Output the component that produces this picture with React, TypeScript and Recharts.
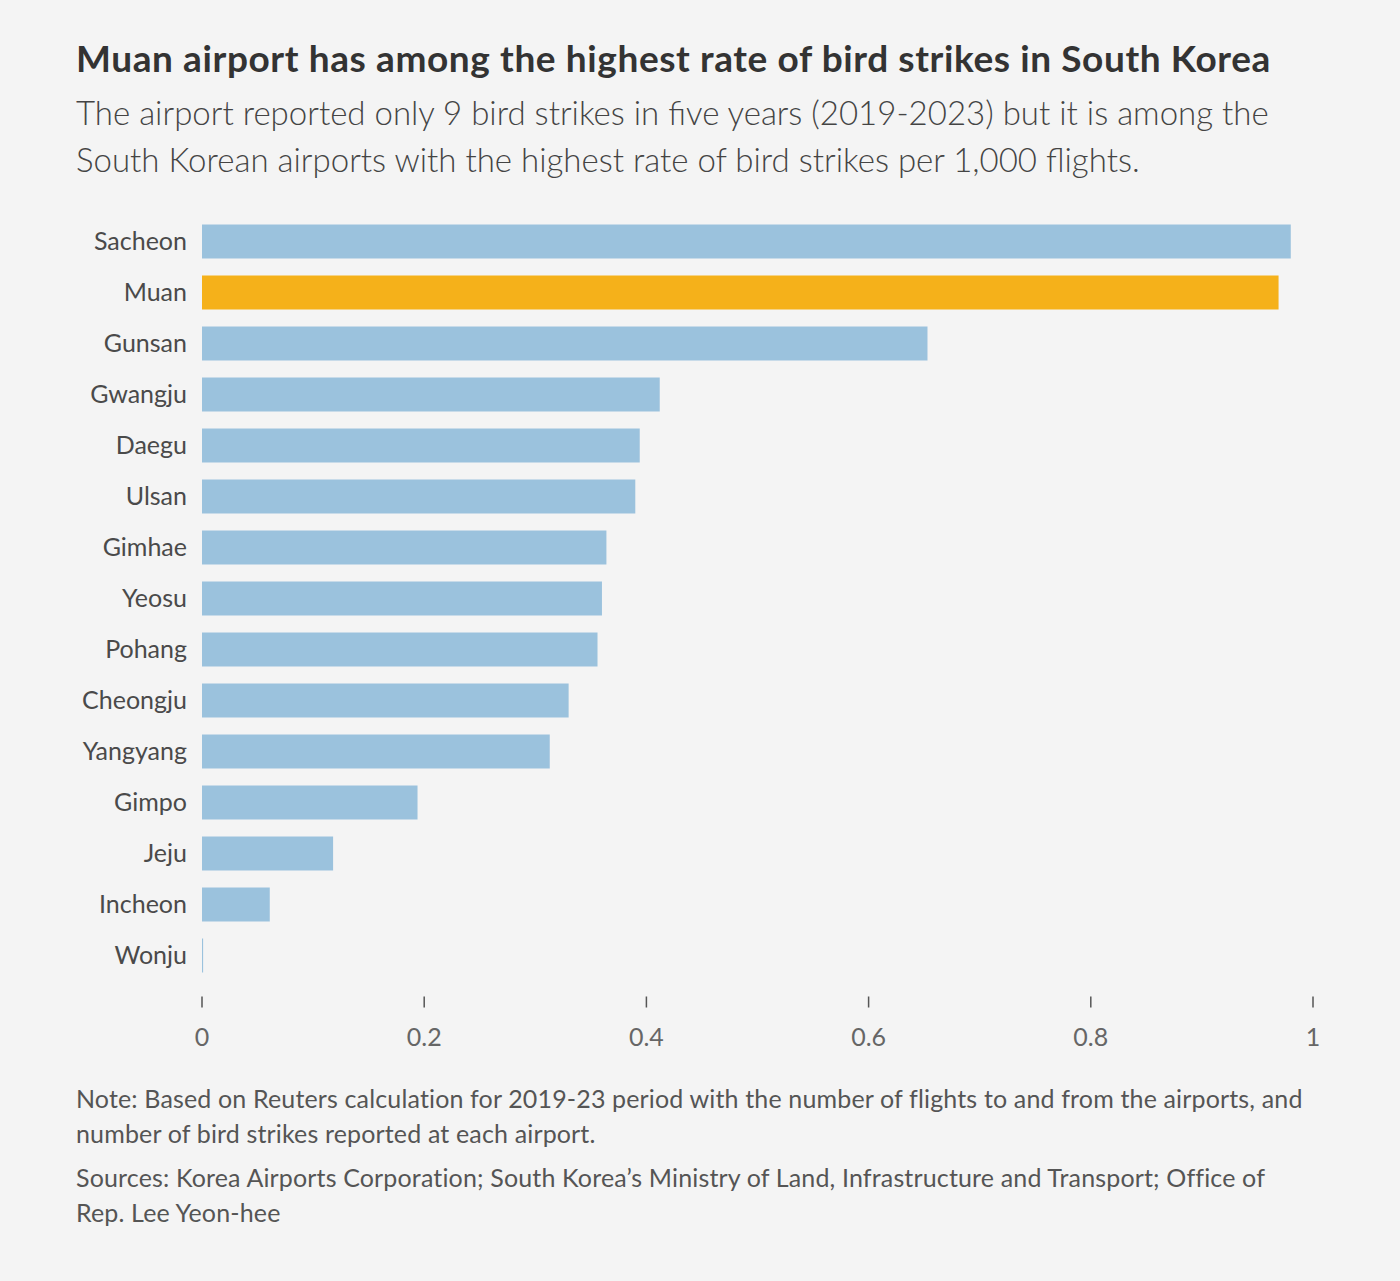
import React from 'react';
import { BarChart, Bar, XAxis, YAxis, Cell } from 'recharts';

const airports = [
  'Sacheon', 'Muan', 'Gunsan', 'Gwangju', 'Daegu', 'Ulsan', 'Gimhae', 'Yeosu',
  'Pohang', 'Cheongju', 'Yangyang', 'Gimpo', 'Jeju', 'Incheon', 'Wonju',
];
const ratePer1000 = [
  0.98, 0.969, 0.653, 0.412, 0.394, 0.39, 0.364, 0.36,
  0.356, 0.33, 0.313, 0.194, 0.118, 0.061, 0.001,
];
const xTicks = [0, 0.2, 0.4, 0.6, 0.8, 1];
const highlight = 'Muan';

const FONT = 'Lato, "Noto Sans", sans-serif';

const chartData = airports.map((name, i) => ({ name, rate: ratePer1000[i] }));

const XTick = (props: any) => {
  const { x, y, payload } = props;
  return (
    <g>
      <line x1={x} x2={x} y1={y + 16} y2={y + 27} stroke="#555" strokeWidth={1.5} />
      <text x={x} y={y + 65} textAnchor="middle" fill="#666" fontSize={25} fontFamily={FONT}>
        {String(payload.value)}
      </text>
    </g>
  );
};

export default function App() {
  return (
    <div style={{ position: 'absolute', left: 0, top: 0, width: 1400, height: 1281, background: '#f4f4f4', fontFamily: FONT, color: '#333' }}>
      <div style={{ position: 'absolute', left: 76, top: 35, fontSize: 37, letterSpacing: 0.6, fontWeight: 700, color: '#333', whiteSpace: 'nowrap' }}>
        Muan airport has among the highest rate of bird strikes in South Korea
      </div>
      <div style={{ position: 'absolute', left: 76, top: 89, fontSize: 33, lineHeight: '47px', fontWeight: 300, color: '#444', whiteSpace: 'nowrap' }}>
        The airport reported only 9 bird strikes in five years (2019-2023) but it is among the<br />
        South Korean airports with the highest rate of bird strikes per 1,000 flights.
      </div>

      <div style={{ position: 'absolute', left: 0, top: 200 }}>
        <BarChart
          width={1400}
          height={860}
          data={chartData}
          layout="vertical"
          margin={{ top: 15.5, right: 87, bottom: 19.5, left: 0 }}
          barSize={34}
        >
          <XAxis
            type="number"
            domain={[0, 1]}
            ticks={xTicks}
            axisLine={false}
            tickLine={false}
            tickSize={0}
            tickMargin={0}
            height={60}
            tick={<XTick />}
            interval={0}
          />
          <YAxis
            type="category"
            dataKey="name"
            width={202}
            axisLine={false}
            tickLine={false}
            tickSize={0}
            tickMargin={15}
            interval={0}
            tick={{ fill: '#4a4a4a', fontSize: 25, fontFamily: FONT }}
          />
          <Bar dataKey="rate" isAnimationActive={false}>
            {chartData.map((d) => (
              <Cell key={d.name} fill={d.name === highlight ? '#f5b11a' : '#9bc2dd'} />
            ))}
          </Bar>
        </BarChart>
      </div>

      <div style={{ position: 'absolute', left: 76, top: 1081, fontSize: 25, letterSpacing: 0.15, lineHeight: '35px', color: '#555', whiteSpace: 'nowrap' }}>
        Note: Based on Reuters calculation for 2019-23 period with the number of flights to and from the airports, and<br />
        number of bird strikes reported at each airport.
      </div>
      <div style={{ position: 'absolute', left: 76, top: 1160, fontSize: 25, letterSpacing: 0.15, lineHeight: '35px', color: '#555', whiteSpace: 'nowrap' }}>
        Sources: Korea Airports Corporation; South Korea’s Ministry of Land, Infrastructure and Transport; Office of<br />
        Rep. Lee Yeon-hee
      </div>
    </div>
  );
}
